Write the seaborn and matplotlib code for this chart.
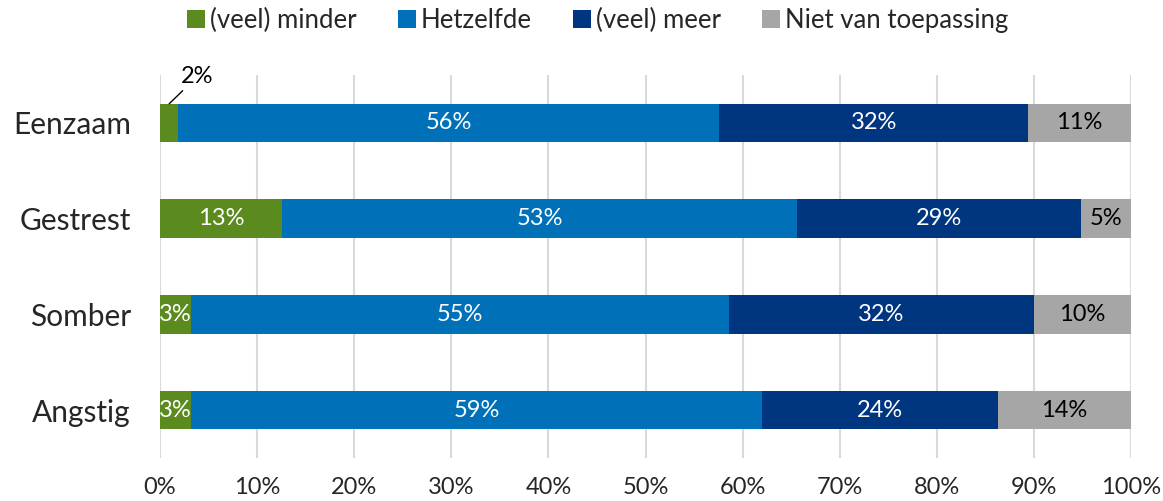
import matplotlib
matplotlib.use("Agg")
import matplotlib.pyplot as plt
import seaborn as sns
import pandas as pd
import numpy as np

categories = ["Eenzaam", "Gestrest", "Somber", "Angstig"]
series_names = ["(veel) minder", "Hetzelfde", "(veel) meer", "Niet van toepassing"]
minder = [1.9, 12.6, 3.2, 3.2]
hetzelfde = [55.7, 53.0, 55.4, 58.8]
meer = [31.8, 29.2, 31.4, 24.3]
nvt = [10.6, 5.2, 10.0, 13.7]
labels_minder = ["2%", "13%", "3%", "3%"]
labels_hetzelfde = ["56%", "53%", "55%", "59%"]
labels_meer = ["32%", "29%", "32%", "24%"]
labels_nvt = ["11%", "5%", "10%", "14%"]
tick_labels = ["0%", "10%", "20%", "30%", "40%", "50%", "60%", "70%", "80%", "90%", "100%"]

colors = ["#5B8A1E", "#0070B8", "#003580", "#A6A6A6"]
text_colors = ["white", "white", "white", "black"]

sns.set_theme(style="white")
plt.rcParams['font.family'] = ['Lato', 'DejaVu Sans']

fig = plt.figure(figsize=(11.63, 5.01), dpi=100)
ax = fig.add_axes([160/1163, 1-458/501, (1131-160)/1163, (458-75)/501])

vals = [minder, hetzelfde, meer, nvt]
labs = [labels_minder, labels_hetzelfde, labels_meer, labels_nvt]

cum = np.cumsum(np.array(vals), axis=0)
for i in range(3, -1, -1):
    df = pd.DataFrame({"cat": categories, "val": cum[i]})
    sns.barplot(data=df, y="cat", x="val", color=colors[i], orient="h",
                width=0.4, ax=ax, saturation=1, label=series_names[i], zorder=3,
                linewidth=0)

for i in range(4):
    for j in range(4):
        start = cum[i][j] - vals[i][j]
        center = start + vals[i][j] / 2
        if i == 0 and j == 0:
            ax.annotate(labs[i][j], xy=(center, j - 0.2), xytext=(3.8, j - 0.37),
                        fontsize=17, color="black", ha="center", va="bottom",
                        arrowprops=dict(arrowstyle="-", color="black", lw=1,
                                        shrinkA=0, shrinkB=0))
        else:
            ax.text(center, j, labs[i][j], ha="center", va="center",
                    fontsize=17, color=text_colors[i], zorder=5)

ax.set_xlim(0, 100)
ax.set_ylim(3.5, -0.5)
ax.set_xticks(np.arange(0, 101, 10))
ax.set_xticklabels(tick_labels, fontsize=17)
ax.tick_params(axis="x", pad=14, length=0)
ax.tick_params(axis="y", labelsize=21.5, length=0, pad=21)
ax.set_xlabel("")
ax.set_ylabel("")
ax.grid(axis="x", color="#D9D9D9", lw=1.5, zorder=0)
for s in ax.spines.values():
    s.set_visible(False)

handles, lbls = ax.get_legend_handles_labels()
hmap = dict(zip(lbls, handles))
ax.legend([hmap[n] for n in series_names], series_names, loc="center",
          bbox_to_anchor=(0.451, 1 + (75 - 20) / 383), ncol=4, frameon=False, fontsize=18.5,
          handlelength=0.7, handleheight=0.7, handletextpad=0.2, columnspacing=1.6)

fig.savefig("out.png", dpi=100)
